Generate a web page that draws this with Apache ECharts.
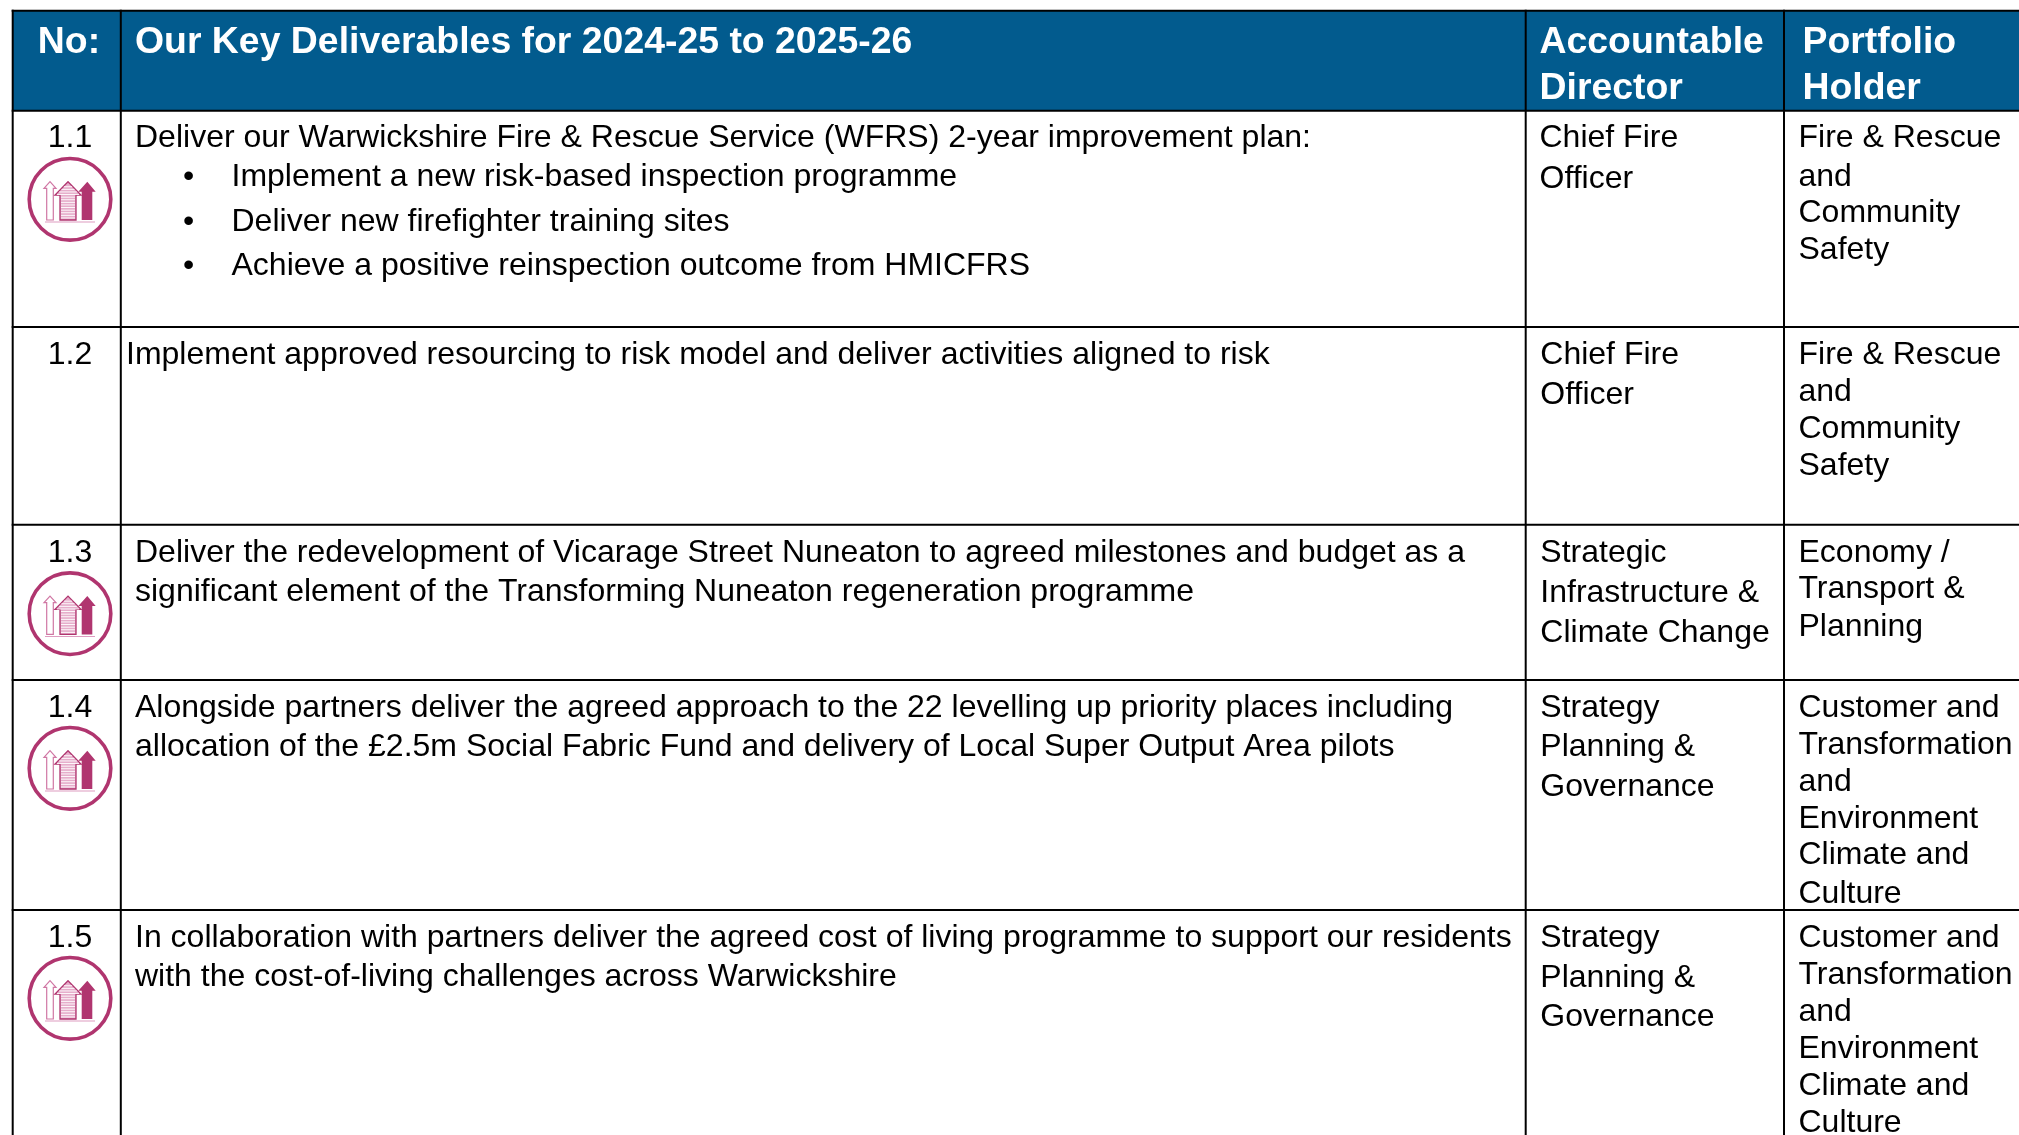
<!DOCTYPE html>
<html>
<head>
<meta charset="utf-8">
<title>Key Deliverables</title>
<style>
  html, body { margin: 0; padding: 0; background: #fff; }
  #main { width: 2019px; height: 1135px; }
</style>
<script src="https://cdn.jsdelivr.net/npm/echarts@6/dist/echarts.min.js"></script>
</head>
<body>
<div id="main"></div>
<script>
// table text
const headerNo = 'No:';
const headerDeliverables = 'Our Key Deliverables for 2024-25 to 2025-26';
const headerDirector = ['Accountable', 'Director'];
const headerPortfolio = ['Portfolio', 'Holder'];

const rowNos = ['1.1', '1.2', '1.3', '1.4', '1.5'];
const rowDeliverables = [
  ['Deliver our Warwickshire Fire & Rescue Service (WFRS) 2-year improvement plan:'],
  ['Implement approved resourcing to risk model and deliver activities aligned to risk'],
  ['Deliver the redevelopment of Vicarage Street Nuneaton to agreed milestones and budget as a',
    'significant element of the Transforming Nuneaton regeneration programme'],
  ['Alongside partners deliver the agreed approach to the 22 levelling up priority places including',
    'allocation of the £2.5m Social Fabric Fund and delivery of Local Super Output Area pilots'],
  ['In collaboration with partners deliver the agreed cost of living programme to support our residents',
    'with the cost-of-living challenges across Warwickshire']
];
const firstRowBullets = [
  'Implement a new risk-based inspection programme',
  'Deliver new firefighter training sites',
  'Achieve a positive reinspection outcome from HMICFRS'
];
const rowDirectors = [
  ['Chief Fire', 'Officer'],
  ['Chief Fire', 'Officer'],
  ['Strategic', 'Infrastructure &', 'Climate Change'],
  ['Strategy', 'Planning &', 'Governance'],
  ['Strategy', 'Planning &', 'Governance']
];
const rowPortfolios = [
  ['Fire & Rescue', 'and', 'Community', 'Safety'],
  ['Fire & Rescue', 'and', 'Community', 'Safety'],
  ['Economy /', 'Transport &', 'Planning'],
  ['Customer and', 'Transformation', 'and', 'Environment', 'Climate and', 'Culture'],
  ['Customer and', 'Transformation', 'and', 'Environment', 'Climate and', 'Culture']
];
const rowHasIcon = [true, false, true, true, true];

// layout, in page pixels
const colLines = [12.7, 120.8, 1525.7, 1784];
const rowLines = [10.7, 110.7, 327, 524.7, 680, 910];
const noCenterX = 70;
const deliverableX = [135, 126, 135, 135, 135];
const directorX = [1539.5, 1540.3, 1540.3, 1540.3, 1540.3];
const portfolioX = 1798.5;
const bulletX = 183;
const bulletTextX = 231.5;
const bulletBaselines = [185, 230.7, 274.3];
const deliverableBaselines = [[146.7], [363.3], [561.7, 600], [716, 755], [946.7, 985]];
const directorBaselines = [[146.7, 187], [363.3, 403.3], [561.7, 601.7, 641.7], [716, 755.7, 795], [946.7, 986.7, 1025]];
const portfolioBaselines = [
  [146.7, 185, 221.7, 258.3],
  [363.3, 400.7, 437.3, 474.3],
  [561.7, 597.7, 635],
  [716, 753.3, 790.3, 827.3, 863.3, 902.7],
  [946.7, 983.3, 1020, 1057.3, 1094, 1131.7]
];
const iconCenterY = [199.3, null, 613.7, 768.3, 998.3];

const FONT = '"Liberation Sans", Arial, sans-serif';
const TEXT_SIZE = 32;
const HEAD_SIZE = 37.4;
const HEAD_BLUE = '#025b8e';
const PLUM = '#b0356f';
const PINK = '#dd9cc0';

// offset from the baseline to the y that zrender centres on
function textAt(x, baseline, text, size, fill, weight, align) {
  return {
    type: 'text',
    silent: true,
    style: {
      x: x,
      y: baseline - size * 0.26,
      text: text,
      fill: fill,
      fontFamily: FONT,
      fontSize: size,
      fontWeight: weight || 'normal',
      align: align || 'left',
      verticalAlign: 'middle'
    }
  };
}

function bar(x, y, w, h, fill) {
  return { type: 'rect', silent: true, shape: { x: x, y: y, width: w, height: h }, style: { fill: fill } };
}

function poly(points, style) {
  return { type: 'polygon', silent: true, shape: { points: points }, style: style };
}

// icon is drawn relative to the circle centre
function iconParts(cy) {
  const cx = 70;
  const p = (dx, dy) => [cx + dx, cy + dy];
  const parts = [];
  parts.push({
    type: 'circle', silent: true,
    shape: { cx: cx, cy: cy, r: 40.8 },
    style: { fill: '#fff', stroke: PLUM, lineWidth: 3.6 }
  });
  // thin outlined arrow
  parts.push(poly([p(-20, -17.6), p(-26, -11), p(-23.3, -11), p(-23.3, 20.7), p(-16.7, 20.7), p(-16.7, -11), p(-14, -11)],
    { fill: '#fff', stroke: '#d077a4', lineWidth: 1.2 }));
  // striped arrow
  parts.push(poly([p(-2, -17.6), p(-15, -4.3), p(-10, -4.3), p(-10, 20.7), p(6, 20.7), p(6, -4.3), p(11, -4.3)],
    { fill: '#e6aecb', stroke: PLUM, lineWidth: 1.3 }));
  for (let dy = -13; dy < 20; dy += 2.6) {
    const half = dy < -4.3 ? (dy + 17.6) * 0.9 : 7;
    parts.push(bar(cx - 2 - half, cy + dy, half * 2, 0.9, '#fff'));
  }
  // solid arrow
  parts.push(poly([p(17.3, -17.6), p(8.3, -7.6), p(11.7, -7.6), p(11.7, 20.7), p(22.3, 20.7), p(22.3, -7.6), p(25.7, -7.6)],
    { fill: PLUM }));
  parts.push(bar(cx - 25, cy + 22.2, 50, 1, PINK));
  return parts;
}

function renderRow(params, api) {
  const i = api.value(0);
  const children = [];
  children.push(textAt(noCenterX, deliverableBaselines[i][0], rowNos[i], TEXT_SIZE, '#000', 'normal', 'center'));
  rowDeliverables[i].forEach((s, k) => {
    children.push(textAt(deliverableX[i], deliverableBaselines[i][k], s, TEXT_SIZE, '#000'));
  });
  if (i === 0) {
    firstRowBullets.forEach((s, k) => {
      children.push(textAt(bulletX, bulletBaselines[k], '•', TEXT_SIZE, '#000'));
      children.push(textAt(bulletTextX, bulletBaselines[k], s, TEXT_SIZE, '#000'));
    });
  }
  rowDirectors[i].forEach((s, k) => {
    children.push(textAt(directorX[i], directorBaselines[i][k], s, TEXT_SIZE, '#000'));
  });
  rowPortfolios[i].forEach((s, k) => {
    children.push(textAt(portfolioX, portfolioBaselines[i][k], s, TEXT_SIZE, '#000'));
  });
  if (rowHasIcon[i]) {
    iconParts(iconCenterY[i]).forEach(c => children.push(c));
  }
  return { type: 'group', children: children };
}

function renderFrame() {
  const children = [bar(colLines[0], rowLines[0], 2019 - colLines[0], rowLines[1] - rowLines[0], HEAD_BLUE)];
  rowLines.forEach(y => children.push(bar(colLines[0] - 1, y - 1, 2019, 2, '#000')));
  colLines.forEach(x => children.push(bar(x - 1, rowLines[0] - 1, 2, 1135, '#000')));
  children.push(textAt(noCenterX - 1, 52.3, headerNo, HEAD_SIZE, '#fff', 'bold', 'center'));
  children.push(textAt(135, 52.3, headerDeliverables, HEAD_SIZE, '#fff', 'bold'));
  headerDirector.forEach((s, k) => children.push(textAt(1539.5, [52.3, 98.3][k], s, HEAD_SIZE, '#fff', 'bold')));
  headerPortfolio.forEach((s, k) => children.push(textAt(1802.5, [52.3, 98.3][k], s, HEAD_SIZE, '#fff', 'bold')));
  return { type: 'group', children: children };
}

const chart = echarts.init(document.getElementById('main'), null, { width: 2019, height: 1135 });
chart.setOption({
  backgroundColor: '#fff',
  animation: false,
  series: [{
    type: 'custom',
    name: 'frame',
    coordinateSystem: 'none',
    silent: true,
    z: 1,
    data: [0],
    renderItem: renderFrame
  }, {
    type: 'custom',
    name: 'rows',
    coordinateSystem: 'none',
    silent: true,
    z: 2,
    data: rowNos.map((no, i) => [i]),
    renderItem: renderRow
  }]
});
</script>
</body>
</html>
